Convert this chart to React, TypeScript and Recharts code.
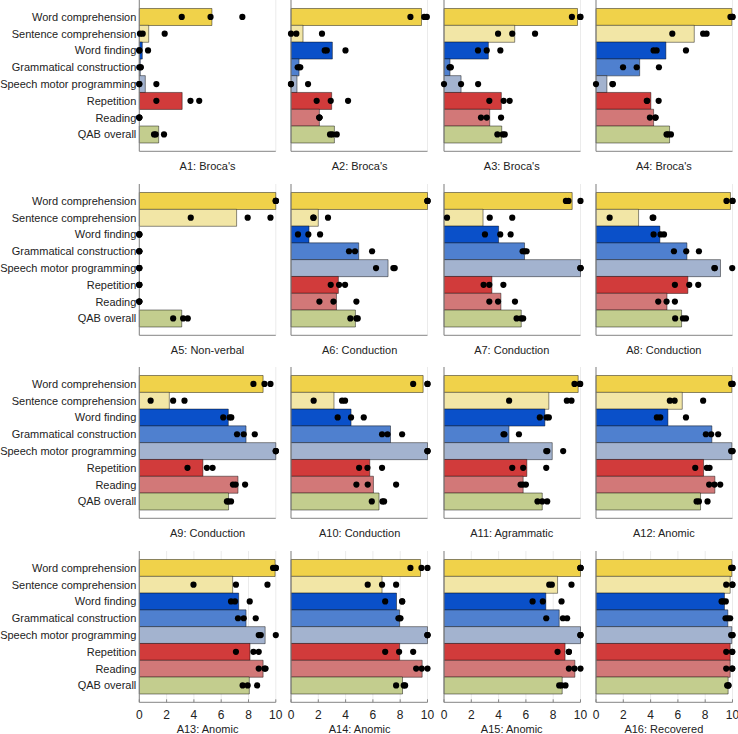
import { Bar, CartesianGrid, Cell, ComposedChart, Line, XAxis, YAxis } from "recharts"

const categories = [
  "Word comprehension",
  "Sentence comprehension",
  "Word finding",
  "Grammatical construction",
  "Speech motor programming",
  "Repetition",
  "Reading",
  "QAB overall",
]

const barColors = ["#f0d24a", "#f2e6a6", "#0a50c9", "#4f80cf", "#a3b3cf", "#d13b3b", "#d27878", "#c3cd8e"]

const titles = [
  "A1: Broca's", "A2: Broca's", "A3: Broca's", "A4: Broca's",
  "A5: Non-verbal", "A6: Conduction", "A7: Conduction", "A8: Conduction",
  "A9: Conduction", "A10: Conduction", "A11: Agrammatic", "A12: Anomic",
  "A13: Anomic", "A14: Anomic", "A15: Anomic", "A16: Recovered",
]

const xTicks = [0, 2, 4, 6, 8, 10]

// group mean per domain, one row per participant
const barValues = [
  [5.32, 0.69, 0.22, 0.07, 0.44, 3.14, 0, 1.42],
  [9.56, 0.88, 3.03, 0.59, 0.44, 2.98, 2.08, 3.18],
  [9.78, 5.18, 3.25, 0.44, 1.25, 4.2, 3.35, 4.23],
  [9.95, 7.2, 5.12, 3.2, 0.8, 4.02, 4.22, 5.39],
  [10, 7.13, 0, 0, 0, 0, 0, 3.11],
  [10, 2.0, 1.32, 4.96, 7.11, 3.47, 3.33, 4.72],
  [9.39, 2.86, 4.0, 5.9, 10, 3.51, 4.17, 5.66],
  [9.85, 3.12, 4.68, 6.66, 9.12, 6.73, 5.2, 6.27],
  [9.07, 2.2, 6.52, 7.82, 10, 4.66, 7.23, 6.54],
  [9.68, 3.15, 4.4, 7.29, 10, 5.77, 6.04, 6.45],
  [9.83, 7.68, 7.39, 4.76, 7.93, 6.07, 5.8, 7.2],
  [9.95, 6.32, 5.27, 8.49, 9.95, 7.88, 8.71, 7.66],
  [9.95, 6.84, 7.28, 7.82, 9.22, 8.11, 9.07, 8.06],
  [9.49, 6.67, 7.73, 7.95, 10, 7.95, 9.61, 8.17],
  [10, 8.32, 7.46, 8.44, 10, 8.87, 9.59, 8.66],
  [9.95, 9.83, 9.41, 9.66, 9.95, 9.83, 9.83, 9.68],
]

// three timepoints per domain
const dotValues = [
  [[3.11, 5.22, 7.55], [0.05, 0.25, 1.86], [0, 0, 0.64], [0, 0.1, 0.1], [0, 0, 1.25], [1.25, 3.75, 4.39], [0, 0, 0], [1.08, 1.2, 1.81]],
  [[8.75, 9.76, 9.95], [0, 0.39, 2.27], [2.47, 2.62, 3.99], [0.49, 0.6, 0.68], [0, 0, 1.25], [1.88, 2.91, 4.18], [2.08, 2.08, 2.08], [2.86, 3.03, 3.35]],
  [[9.37, 9.97, 10], [3.96, 5.0, 6.67], [2.49, 3.13, 4.13], [0.4, 0.45, 0.5], [0, 1.25, 2.5], [3.32, 4.37, 4.81], [2.71, 3.13, 4.18], [3.91, 4.3, 4.45]],
  [[9.85, 10, 10], [5.59, 7.85, 8.1], [4.22, 4.44, 6.59], [1.98, 2.98, 4.61], [0, 1.2, 1.24], [3.72, 3.75, 4.59], [3.95, 4.34, 4.37], [5.17, 5.29, 5.49]],
  [[10, 10, 10], [3.77, 7.94, 9.61], [0, 0, 0], [0, 0, 0], [0, 0, 0], [0, 0, 0], [0, 0, 0], [2.48, 3.21, 3.55]],
  [[10, 10, 10], [1.63, 1.66, 2.71], [0.51, 1.27, 2.13], [4.25, 4.69, 5.94], [6.23, 7.5, 7.6], [2.91, 3.52, 3.96], [2.08, 3.11, 4.79], [4.35, 4.79, 4.89]],
  [[8.93, 9.12, 10], [0.22, 3.35, 5.0], [3.0, 4.12, 4.88], [5.76, 5.9, 6.05], [10, 10, 10], [2.9, 3.32, 4.35], [3.32, 3.96, 5.2], [5.32, 5.66, 5.8]],
  [[9.56, 10, 10], [1.0, 4.15, 4.2], [4.22, 4.73, 4.98], [5.71, 6.61, 7.54], [8.67, 8.71, 9.98], [5.78, 6.83, 7.49], [4.56, 5.17, 5.78], [5.8, 6.37, 6.59]],
  [[8.36, 9.17, 9.61], [0.83, 2.48, 3.31], [6.15, 6.62, 6.74], [7.16, 7.65, 8.46], [10, 10, 10], [3.53, 4.95, 5.37], [6.86, 7.06, 7.75], [6.42, 6.52, 6.72]],
  [[8.95, 10, 10], [1.66, 3.74, 3.96], [3.42, 4.4, 5.33], [6.67, 7.07, 8.14], [10, 10, 10], [4.99, 5.6, 6.67], [4.79, 5.62, 7.7], [5.92, 6.7, 6.82]],
  [[9.56, 9.95, 9.98], [4.77, 9.0, 9.34], [7.02, 7.51, 7.68], [4.36, 4.43, 5.49], [7.49, 7.57, 8.73], [5.0, 5.8, 7.49], [5.61, 5.78, 6.0], [6.85, 7.2, 7.56]],
  [[9.9, 10, 10], [5.41, 5.76, 7.85], [4.46, 4.71, 6.59], [8.05, 8.44, 8.95], [9.9, 10, 10], [7.27, 8.12, 8.32], [8.29, 8.68, 9.1], [7.37, 7.54, 8.17]],
  [[9.8, 10, 10], [3.97, 7.08, 9.39], [6.72, 7.01, 8.09], [7.23, 7.65, 8.53], [8.75, 8.9, 10], [7.08, 8.36, 8.75], [8.75, 9.17, 9.25], [7.57, 7.94, 8.63]],
  [[8.75, 9.56, 10], [5.62, 6.67, 7.7], [6.9, 8.14, 8.15], [7.87, 7.95, 8.02], [10, 10, 10], [6.9, 7.92, 8.95], [9.17, 9.58, 10], [7.7, 8.26, 8.36]],
  [[10, 10, 10], [7.71, 7.9, 9.34], [6.49, 7.24, 8.61], [7.49, 8.71, 9.02], [10, 10, 10], [8.32, 9.15, 9.15], [9.15, 9.56, 10], [8.44, 8.61, 8.9]],
  [[9.9, 10, 10], [9.54, 9.98, 10], [9.2, 9.32, 9.51], [9.49, 9.66, 9.83], [9.9, 10, 10], [9.54, 9.98, 9.98], [9.54, 9.98, 9.98], [9.61, 9.7, 9.7]],
]

const PLOT_W = 136.5
const PLOT_H = 151.3
const ROW_TOPS = [0, 183.5, 367, 550.5]
const MT = 6
const MR = 8
const XH = 32
const axisColor = "#858585"

// plain text tick so long labels stay on one line
function CategoryTick({ x, y, payload }: any) {
  return (
    <text x={x} y={y} dy="0.36em" textAnchor="end" fontSize={11} fill="#222">
      {payload.value}
    </text>
  )
}

function Panel({ index }: { index: number }) {
  const col = index % 4
  const row = Math.floor(index / 4)
  const plotLeft = 139.3 + 152.1 * col
  const plotTop = ROW_TOPS[row]
  const yWidth = col === 0 ? 139.3 : 10
  const isBottom = row === 3

  const data = categories.map((name, i) => ({
    name,
    value: barValues[index][i],
    d1: dotValues[index][i][0],
    d2: dotValues[index][i][1],
    d3: dotValues[index][i][2],
  }))

  const titleY = isBottom ? plotTop + PLOT_H + 27.5 : plotTop + PLOT_H + 15

  return (
    <>
      <div style={{ position: "absolute", left: plotLeft - yWidth, top: plotTop - MT }}>
        <ComposedChart
          layout="vertical"
          width={yWidth + PLOT_W + MR}
          height={MT + PLOT_H + XH}
          data={data}
          margin={{ top: MT, right: MR, bottom: 0, left: 0 }}
          barCategoryGap={0}
          barGap={0}
        >
          <CartesianGrid horizontal={false} stroke="#ebebeb" />
          <XAxis
            type="number"
            domain={[0, 10]}
            ticks={xTicks}
            height={XH}
            stroke={axisColor}
            tickSize={-3}
            tickMargin={11.4}
            tick={isBottom ? { fontSize: 12, fill: "#222" } : false}
          />
          <YAxis
            type="category"
            dataKey="name"
            width={yWidth}
            padding={{ top: 8.5, bottom: 8.5 }}
            stroke={axisColor}
            tickLine={false}
            tickSize={0}
            tickMargin={3}
            tick={col === 0 ? <CategoryTick /> : false}
            interval={0}
          />
          <Bar dataKey="value" stroke="#000" strokeOpacity={0.45} strokeWidth={1} isAnimationActive={false}>
            {data.map((d, i) => (
              <Cell key={d.name} fill={barColors[i]} />
            ))}
          </Bar>
          {["d1", "d2", "d3"].map((k) => (
            <Line
              key={k}
              dataKey={k}
              stroke="none"
              dot={{ r: 3.1, fill: "#000", stroke: "none" }}
              activeDot={false}
              legendType="none"
              isAnimationActive={false}
            />
          ))}
        </ComposedChart>
      </div>
      <div
        style={{
          position: "absolute",
          left: plotLeft,
          width: PLOT_W,
          top: titleY - 7,
          lineHeight: "14px",
          fontSize: 11,
          textAlign: "center",
          color: "#222",
        }}
      >
        {titles[index]}
      </div>
    </>
  )
}

export default function App() {
  return (
    <div
      style={{
        position: "absolute",
        left: 0,
        top: 0,
        width: 738,
        height: 734,
        background: "#fff",
        overflow: "hidden",
        fontFamily: '"Liberation Sans", Arial, Helvetica, sans-serif',
      }}
    >
      {titles.map((t, i) => (
        <Panel key={t} index={i} />
      ))}
    </div>
  )
}
